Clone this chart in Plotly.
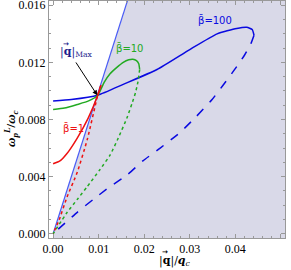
import plotly.graph_objects as go

# ---- data ----
b1_solid_q = [0.0, 0.0015, 0.0030, 0.0053, 0.0077, 0.0098, 0.0105]
b1_solid_w = [0.0049, 0.0051, 0.0056, 0.0067, 0.0081, 0.0097, 0.0104]
b1_dot_q = [0.0105, 0.0098, 0.0075, 0.0053, 0.0031, 0.0013, 0.0]
b1_dot_w = [0.0104, 0.0097, 0.0066, 0.0043, 0.0026, 0.00095, 0.0]

b10_solid_q = [0.0, 0.0025, 0.0053, 0.0078, 0.0098, 0.0112, 0.0125, 0.0140, 0.0154, 0.0166, 0.0175, 0.0183, 0.0188, 0.0190]
b10_solid_w = [0.0087, 0.0088, 0.00905, 0.0093, 0.0097, 0.0106, 0.0112, 0.01165, 0.0120, 0.01218, 0.01222, 0.01212, 0.0119, 0.0115]
b10_dot_q = [0.0190, 0.0186, 0.0181, 0.0173, 0.0162, 0.0143, 0.0125, 0.0103, 0.0075, 0.0053, 0.0031, 0.0]
b10_dot_w = [0.0115, 0.0106, 0.0099, 0.0091, 0.0081, 0.0067, 0.0055, 0.0045, 0.0033, 0.0024, 0.0015, 0.0]

b100_solid_q = [0.0, 0.0040, 0.0098, 0.0154, 0.0228, 0.0300, 0.0360, 0.0403, 0.0425, 0.0437, 0.0441]
b100_solid_w = [0.0093, 0.0094, 0.0097, 0.01046, 0.0115, 0.0129, 0.0140, 0.01438, 0.01446, 0.0143, 0.0139]
b100_dash_q = [0.0441, 0.0434, 0.0420, 0.0403, 0.0373, 0.0349, 0.0314, 0.0279, 0.0235, 0.0197, 0.0162, 0.0125, 0.0088, 0.0053, 0.0]
b100_dash_w = [0.0139, 0.0133, 0.0125, 0.0117, 0.0104, 0.0094, 0.0082, 0.0071, 0.0060, 0.0051, 0.0041, 0.0033, 0.0024, 0.0015, 0.0]

light_q = [0.0, 0.0175]
light_w = [0.0, 0.0175]

x_ticks = [0.00, 0.01, 0.02, 0.03, 0.04, 0.05]
x_ticklabels = ["0.00", "0.01", "0.02", "0.03", "0.04", "0.05"]
y_ticks = [0.000, 0.004, 0.008, 0.012, 0.016]
y_ticklabels = ["0.000", "0.004", "0.008", "0.012", "0.016"]

qmax_point = (0.0097, 0.0097)

RED = "#ee1111"
GREEN = "#22aa22"
BLUE = "#0a0ae0"
LIGHTBLUE = "#4a5cf5"
SHADE = "#d9d9e8"
NAVY = "#1c1c8c"

xmax_fill = 0.06
ymin_fill = -0.001

fig = go.Figure()

# shaded region omega < q
fig.add_trace(go.Scatter(
    x=[light_q[0], light_q[1], xmax_fill, xmax_fill, light_q[0]],
    y=[light_w[0], light_w[1], light_w[1], ymin_fill, ymin_fill],
    fill="toself", fillcolor=SHADE, line=dict(width=0), mode="lines",
    hoverinfo="skip", showlegend=False))

# light line omega = q
fig.add_trace(go.Scatter(x=light_q, y=light_w, mode="lines",
                         line=dict(color=LIGHTBLUE, width=1.2), showlegend=False))

def add(q, w, color, dash):
    fig.add_trace(go.Scatter(x=q, y=w, mode="lines",
                             line=dict(color=color, width=1.5, dash=dash, shape="spline", smoothing=0.5),
                             showlegend=False))

add(b100_dash_q, b100_dash_w, BLUE, "dash")
add(b100_solid_q, b100_solid_w, BLUE, "solid")
add(b10_dot_q, b10_dot_w, GREEN, "dot")
add(b10_solid_q, b10_solid_w, GREEN, "solid")
add(b1_dot_q, b1_dot_w, RED, "dot")
add(b1_solid_q, b1_solid_w, RED, "solid")

tickfont = dict(family="Liberation Serif", size=12, color="black")
axcol = "#999999"

fig.update_xaxes(range=[-0.0009, 0.0509], tickvals=x_ticks, ticktext=x_ticklabels, automargin=False,
                 tickprefix="<b>", ticksuffix="</b>", tickfont=tickfont,
                 showgrid=False, zeroline=False, showline=True, linecolor=axcol, linewidth=1,
                 mirror="ticks", ticks="inside", ticklen=4, tickcolor=axcol,
                 minor=dict(dtick=0.002, ticks="inside", ticklen=2, tickcolor=axcol))
fig.update_yaxes(range=[-0.0003, 0.0163], tickvals=y_ticks, ticktext=y_ticklabels, automargin=False,
                 tickprefix="<b>", ticksuffix="</b>", tickfont=tickfont, ticklabeloverflow="allow",
                 showgrid=False, zeroline=False, showline=True, linecolor=axcol, linewidth=1,
                 mirror="ticks", ticks="inside", ticklen=4, tickcolor=axcol,
                 minor=dict(dtick=0.001, ticks="inside", ticklen=2, tickcolor=axcol))

# x axis title: |q|/q_c with a small vector arrow over q
fig.add_annotation(xref="paper", yref="paper", x=0.4576, y=0, yshift=-23, xanchor="left", yanchor="middle",
                   text="|<b>q</b>|/<b><i>q</i></b><sub><i>c</i></sub>", showarrow=False,
                   font=dict(family="DejaVu Serif", size=11, color="black"))
fig.add_annotation(xref="paper", yref="paper", x=0.4576, y=0, xshift=8, yshift=-14, xanchor="center", yanchor="middle",
                   text="<b>→</b>", showarrow=False,
                   font=dict(family="DejaVu Sans", size=7, color="black"))

# y axis title
fig.add_annotation(xref="paper", yref="paper", x=0, xshift=-38, y=0.46, xanchor="center", yanchor="middle",
                   textangle=-90,
                   text="<b><i>ω</i><sub><i>p</i></sub><sup><i>L</i></sup>/<i>ω</i><sub><i>c</i></sub></b>",
                   showarrow=False, font=dict(family="Liberation Serif", size=13, color="black"))

lab_font = dict(family="DejaVu Sans", size=10)
fig.add_annotation(x=0.0355, y=0.01495, text="β̄=100", showarrow=False, font=dict(color=BLUE, **lab_font))
fig.add_annotation(x=0.0168, y=0.0130, text="β̄=10", showarrow=False, font=dict(color=GREEN, **lab_font))
fig.add_annotation(x=0.0044, y=0.0074, text="β̄=1", showarrow=False, font=dict(color=RED, **lab_font))

# |q|_Max label with arrow pointing at the common crossing point
fig.add_annotation(x=qmax_point[0], y=qmax_point[1], ax=0.0048, ay=0.0121, axref="x", ayref="y",
                   text="", showarrow=True, arrowhead=2, arrowsize=1, arrowwidth=1, arrowcolor="black")
fig.add_annotation(x=0.0011, y=0.0127, xanchor="left", yanchor="middle",
                   text="|<b>q</b>|<sub>Max</sub>", showarrow=False,
                   font=dict(family="DejaVu Serif", size=11, color=NAVY))
fig.add_annotation(x=0.0011, y=0.0127, xanchor="center", yanchor="middle", xshift=8, yshift=8,
                   text="<b>→</b>", showarrow=False,
                   font=dict(family="DejaVu Sans", size=7, color=NAVY))

fig.update_layout(width=291, height=270, margin=dict(l=49, r=6, t=1, b=32, autoexpand=False),
                  plot_bgcolor="white", paper_bgcolor="white", showlegend=False)

fig.write_html("out.html", config={"displayModeBar": False},
               post_script="document.body.style.margin='0';document.body.style.padding='0';")
